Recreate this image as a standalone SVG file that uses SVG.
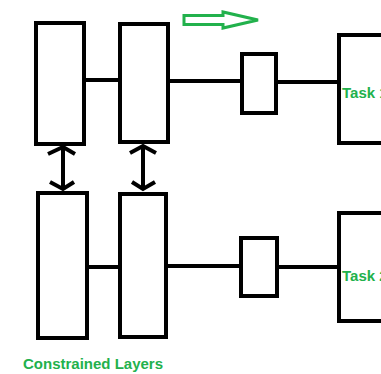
<svg xmlns="http://www.w3.org/2000/svg" width="381" height="374" viewBox="0 0 381 374">
  <style>
    .box { fill: #ffffff; stroke: #000000; stroke-width: 4; }
    .wire { stroke: #000000; stroke-width: 4; fill: none; }
    .link { stroke: #000000; stroke-width: 4; fill: none; stroke-linecap: butt; }
    .chev { stroke: #000000; stroke-width: 4; fill: none; stroke-linejoin: miter; }
    .label { font-family: "Liberation Sans", Arial, sans-serif; font-weight: bold; fill: #22b14c; }
  </style>
  <rect width="381" height="374" fill="#ffffff"/>

  <g id="connectors">
    <!-- top row wires -->
    <line class="wire" x1="84" y1="80" x2="120" y2="80"/>
    <line class="wire" x1="168" y1="81" x2="242" y2="81"/>
    <line class="wire" x1="276" y1="82" x2="339" y2="82"/>
    <!-- bottom row wires -->
    <line class="wire" x1="87" y1="267" x2="122" y2="267"/>
    <line class="wire" x1="166" y1="266" x2="241" y2="266"/>
    <line class="wire" x1="277" y1="267" x2="339" y2="267"/>
    <!-- shared-weight links between the two columns -->
    <line class="link" x1="63" y1="147" x2="63" y2="190"/>
    <polyline class="chev" points="48,154 63,147 75,154"/>
    <polyline class="chev" points="50,182 63,189 74,182"/>
    <line class="link" x1="143" y1="146" x2="143" y2="190"/>
    <polyline class="chev" points="130,153 143,146 156,153"/>
    <polyline class="chev" points="132,182 143,189 155,182"/>
    <!-- direction arrow -->
    <polygon points="184,15.5 223,15.5 223,12 258,20 223,28 223,24.5 184,24.5" fill="#ffffff" stroke="#22b14c" stroke-width="3" stroke-linejoin="miter"/>
  </g>

  <g id="layer-top-1"><rect class="box" x="36" y="23" width="48" height="121"/></g>
  <g id="layer-top-2"><rect class="box" x="120" y="24" width="48" height="118"/></g>
  <g id="layer-bottom-1"><rect class="box" x="38" y="193" width="49" height="145"/></g>
  <g id="layer-bottom-2"><rect class="box" x="120" y="194" width="46" height="143"/></g>

  <g id="head-top"><rect class="box" x="242" y="54" width="34" height="59"/></g>
  <g id="head-bottom"><rect class="box" x="241" y="238" width="36" height="58"/></g>

  <g id="task-1">
    <rect class="box" x="339" y="35" width="60" height="108"/>
    <text class="label" x="342" y="98" font-size="15">Task 1</text>
  </g>
  <g id="task-2">
    <rect class="box" x="339" y="213" width="60" height="108"/>
    <text class="label" x="342" y="281" font-size="15">Task 2</text>
  </g>

  <text class="label" x="23" y="369" font-size="15">Constrained Layers</text>
</svg>
